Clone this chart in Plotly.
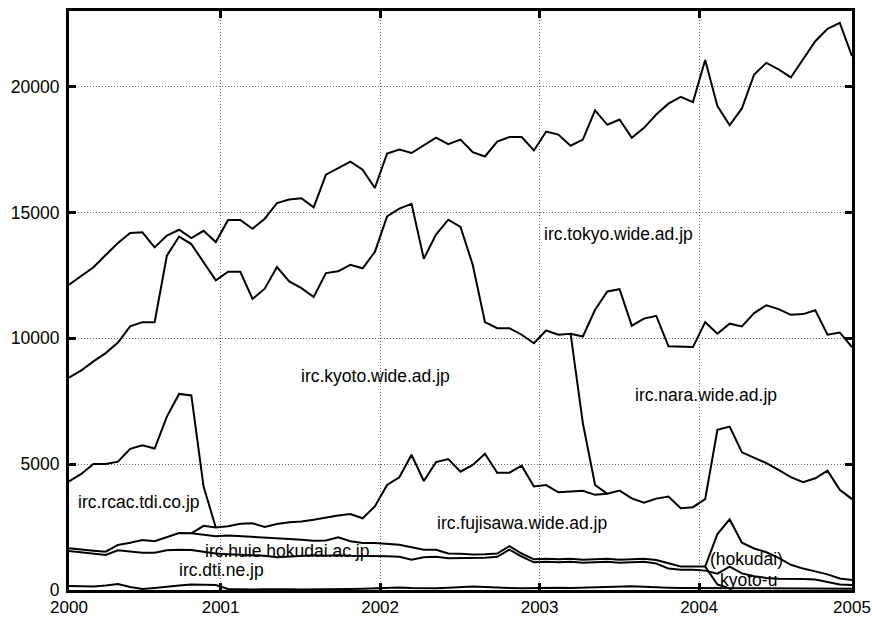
import pandas as pd
import plotly.graph_objects as go

# sampling: one point every 4 weeks (65 samples, 2000-2004)
dates = pd.date_range("2000-01-20", periods=65, freq="28D").strftime("%Y-%m-%d").tolist()

year_ticks = [dates[0], "2001-01-01", "2002-01-01", "2003-01-01", "2004-01-01", dates[-1]]
year_labels = ["2000", "2001", "2002", "2003", "2004", "2005"]
y_ticks = [0, 5000, 10000, 15000, 20000]
y_labels = ["0", "5000", "10000", "15000", "20000"]

N = None

tokyo = [12130, 12470, 12820, 13310, 13780, 14180, 14210, 13610, 14080, 14310,
         13980, 14270, 13820, 14700, 14700, 14350, 14750, 15370, 15510, 15560,
         15200, 16500, 16770, 17020, 16700, 15970, 17340, 17500, 17360, 17680,
         17970, 17710, 17890, 17390, 17220, 17810, 17990, 17990, 17460, 18210,
         18090, 17650, 17890, 19050, 18480, 18690, 17960, 18360, 18890, 19320,
         19590, 19380, 21050, 19220, 18460, 19130, 20480, 20940, 20680, 20360,
         21070, 21800, 22290, 22530, 21210]

kyoto = [8440, 8720, 9080, 9410, 9830, 10470, 10640, 10640, 13280, 14040,
         13740, 13030, 12300, 12640, 12640, 11560, 11970, 12830, 12260, 11990,
         11640, 12590, 12660, 12920, 12780, 13430, 14840, 15150, 15340, 13160,
         14120, 14710, 14420, 12920, 10640, 10400, 10400, 10140, 9800, 10310,
         10140, 10180, 6630, 4170, 3820, N, N, N, N, N,
         N, N, N, N, N, N, N, N, N, N,
         N, N, N, N, N]

nara = [N, N, N, N, N, N, N, N, N, N,
        N, N, N, N, N, N, N, N, N, N,
        N, N, N, N, N, N, N, N, N, N,
        N, N, N, N, N, N, N, N, N, N,
        N, 10180, 10070, 11130, 11860, 11950, 10500, 10780, 10890, 9680,
        9680, 9650, 10640, 10180, 10580, 10470, 11000, 11310, 11160, 10930,
        10960, 11110, 10140, 10230, 9650]

rcac = [4310, 4610, 5010, 5010, 5100, 5610, 5750, 5620, 6890, 7790,
        7730, 4110, 2480, N, N, N, N, N, N, N,
        N, N, N, N, N, N, N, N, N, N,
        N, N, N, N, N, N, N, N, N, N,
        N, N, N, N, N, N, N, N, N, N,
        N, N, N, N, N, N, N, N, N, N,
        N, N, N, N, N]

fujisawa = [N, N, N, N, N, N, N, N, N, N,
            2250, 2550, 2480, 2530, 2630, 2650, 2500, 2620, 2690, 2720,
            2790, 2890, 2960, 3020, 2850, 3320, 4170, 4480, 5370, 4330,
            5080, 5200, 4700, 4970, 5410, 4660, 4660, 4940, 4110, 4170,
            3880, 3910, 3940, 3780, 3820, 3950, 3640, 3470, 3630, 3710,
            3250, 3290, 3610, 6360, 6490, 5470, 5240, 5040, 4770, 4480,
            4280, 4440, 4740, 3980, 3610]

hokudai = [1660, 1600, 1560, 1520, 1790, 1880, 1990, 1940, 2100, 2260,
           2250, 2200, 2140, 2160, 2140, 2100, 2100, 2060, 2030, 2000,
           1960, 1970, 2090, 1940, 1870, 1870, 1840, 1800, 1700, 1600,
           1600, 1450, 1440, 1410, 1420, 1450, 1740, 1450, 1220, 1240,
           1220, 1240, 1200, 1220, 1240, 1200, 1220, 1240, 1190, 1060,
           930, 930, 930, 2220, 2810, 1880, 1650, 1500, 1280, 1000,
           850, 740, 620, 460, 400]

dti = [1550, 1500, 1450, 1390, 1580, 1540, 1480, 1480, 1580, 1600,
       1590, 1520, 1450, 1420, 1400, 1380, 1360, 1300, 1320, 1350,
       1380, 1360, 1380, 1360, 1360, 1340, 1340, 1320, 1200, 1300,
       1320, 1260, 1260, 1260, 1280, 1320, 1600, 1330, 1100, 1120,
       1100, 1120, 1080, 1100, 1120, 1080, 1100, 1120, 1050, 850,
       800, 800, 770, 650, 930, 660, 550, 480, 450, 450,
       440, 420, 320, 220, 200]

hokudai_old = [N, N, N, N, N, N, N, N, N, N,
               N, N, N, N, N, N, N, N, N, N,
               N, N, N, N, N, N, N, N, N, N,
               N, N, N, N, N, N, N, N, N, N,
               N, N, N, N, N, N, N, N, N, N,
               N, N, 930, 220, 60, N, N, N, N, N,
               N, N, N, N, N]

bottom = [160, 140, 140, 180, 240, 120, 40, 80, 140, 180,
          220, 220, 200, 40, 20, 20, 30, 40, 30, 20,
          20, 20, 30, 40, 50, 60, 80, 100, 80, 60,
          70, 90, 100, 140, 120, 90, 80, 70, 80, 100,
          90, 80, 90, 100, 120, 140, 150, 130, 100, 90,
          80, 80, 80, 70, 60, 60, 70, 70, 80, 80,
          70, 60, 60, 50, 50]

series = [
    ("irc.tokyo.wide.ad.jp", tokyo),
    ("irc.nara.wide.ad.jp", nara),
    ("irc.kyoto.wide.ad.jp", kyoto),
    ("irc.rcac.tdi.co.jp", rcac),
    ("irc.fujisawa.wide.ad.jp", fujisawa),
    ("(hokudai)", hokudai),
    ("irc.huie.hokudai.ac.jp", hokudai_old),
    ("irc.dti.ne.jp", dti),
    ("kyoto-u", bottom),
]

# text labels placed inside the bands (layout only)
labels = [
    ("irc.tokyo.wide.ad.jp", "2003-06-30", 14150),
    ("irc.kyoto.wide.ad.jp", "2001-12-21", 8500),
    ("irc.nara.wide.ad.jp", "2004-01-16", 7750),
    ("irc.rcac.tdi.co.jp", "2000-06-28", 3480),
    ("irc.fujisawa.wide.ad.jp", "2002-11-22", 2680),
    ("irc.huie.hokudai.ac.jp", "2001-06-02", 1550),
    ("irc.dti.ne.jp", "2001-01-02", 800),
    ("(hokudai)", "2004-04-18", 1220),
    ("kyoto-u", "2004-04-23", 380),
]

FONT = "Liberation Sans, Arial, Helvetica, sans-serif"
FSIZE = 17.5

fig = go.Figure()
for name, vals in series:
    fig.add_trace(go.Scatter(
        x=dates, y=vals, name=name, mode="lines",
        line=dict(color="black", width=2),
        connectgaps=False, hoverinfo="x+y+name",
    ))

for text, x, y in labels:
    fig.add_annotation(x=x, y=y, text=text, showarrow=False,
                       xanchor="center", yanchor="middle",
                       font=dict(family=FONT, size=FSIZE, color="black"))

axis_common = dict(
    showgrid=True, gridcolor="#666666", griddash="1px,2px", gridwidth=1,
    showline=True, linecolor="black", linewidth=3, mirror="ticks",
    ticks="inside", ticklen=7, tickwidth=3, tickcolor="black",
    zeroline=False, automargin=False,
)

fig.update_xaxes(range=[dates[0], dates[-1]], tickmode="array",
                 tickvals=year_ticks, ticktext=year_labels,
                 ticklabelstandoff=0,
                 tickfont=dict(family=FONT, size=17, color="black"),
                 **axis_common)
fig.update_yaxes(range=[0, 23000], tickmode="array",
                 tickvals=y_ticks, ticktext=y_labels,
                 ticklabelstandoff=3,
                 tickfont=dict(family=FONT, size=FSIZE, color="black"),
                 **axis_common)

fig.update_layout(
    width=872, height=617,
    margin=dict(l=69, r=20, t=11, b=27, pad=0, autoexpand=False),
    plot_bgcolor="white", paper_bgcolor="white",
    showlegend=False,
    font=dict(family=FONT, size=FSIZE, color="black"),
)

fig.write_html(
    "out.html",
    config={"displayModeBar": False},
    post_script="document.body.style.margin='0';document.body.style.padding='0';"
                "document.documentElement.style.overflow='hidden';",
)
